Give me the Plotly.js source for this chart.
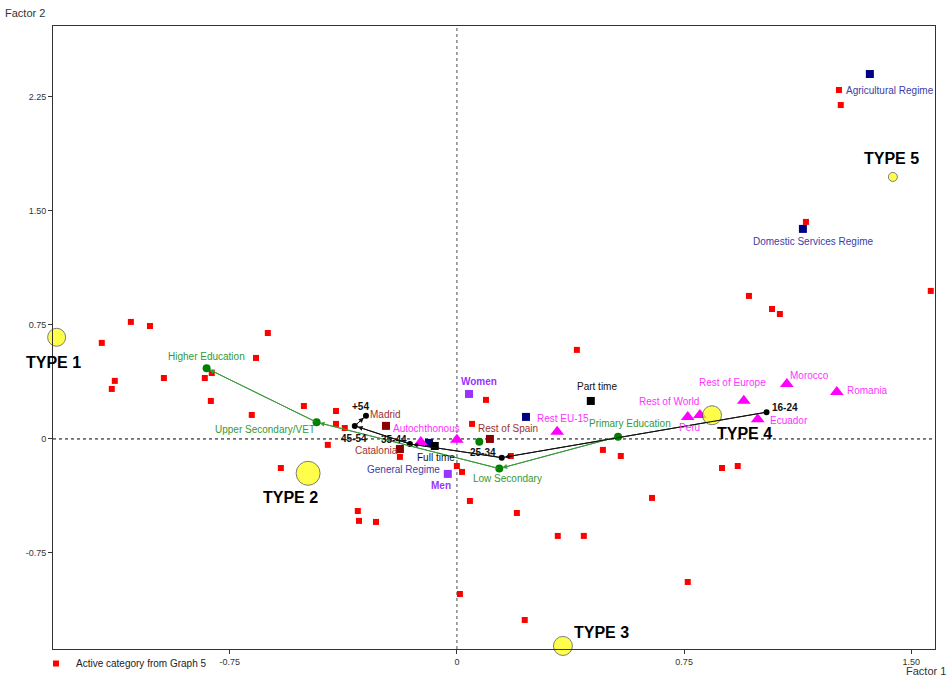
<!DOCTYPE html>
<html>
<head>
<meta charset="utf-8">
<script src="https://cdn.plot.ly/plotly-3.0.1.min.js"></script>
<style>html,body{margin:0;padding:0;background:#fff;}#chart{width:950px;height:677px;}</style>
</head>
<body>
<div id="chart"></div>
<script>
// ---------- DATA ----------
// Active categories from Graph 5 (Factor 1, Factor 2)
const activeX = [1.261,1.267,1.152,1.564,0.964,1.040,1.066,-1.076,-1.013,-1.172,-0.624,-0.663,-1.129,-1.139,-0.967,-0.832,-0.809,-0.812,-0.677,-0.505,-0.399,-0.399,-0.370,-0.426,-0.188,-0.581,-0.327,-0.323,-0.267,0.000,0.017,0.043,0.050,0.096,0.178,0.482,0.541,0.644,0.198,0.333,0.419,0.010,0.224,0.762,0.875,0.927,0.396];
const activeY = [2.296,2.197,1.428,0.974,0.941,0.855,0.822,0.770,0.743,0.632,0.697,0.533,0.382,0.329,0.401,0.401,0.434,0.250,0.158,0.217,0.184,0.099,0.072,-0.039,-0.118,-0.191,-0.474,-0.539,-0.546,-0.178,-0.217,-0.408,0.099,0.257,-0.112,-0.072,-0.112,-0.388,-0.487,-0.638,-0.638,-1.020,-1.191,-0.941,-0.191,-0.178,0.586];

// Social security regime
const regimeNames = ["Agricultural Regime","Domestic Services Regime","General Regime",""];
const regimeX = [1.363,1.142,-0.092,0.228];
const regimeY = [2.401,1.382,-0.026,0.145];

// Working time
const timeNames = ["Part time","Full time"];
const timeX = [0.442,-0.073];
const timeY = [0.250,-0.046];

// Gender
const genderNames = ["Women","Men"];
const genderX = [0.040,-0.030];
const genderY = [0.296,-0.230];

// Region
const regionNames = ["Madrid","Catalonia","Rest of Spain"];
const regionX = [-0.234,-0.188,0.109];
const regionY = [0.086,-0.066,0.000];

// Origin
const originNames = ["Autochthonous","","Rest EU-15","Rest of World","Peru","Rest of Europe","Morocco","Romania","Ecuador"];
const originX = [-0.119,0.000,0.331,0.762,0.802,0.947,1.089,1.254,0.993];
const originY = [-0.020,-0.005,0.048,0.145,0.158,0.252,0.362,0.309,0.130];

// Education (trajectory order)
const eduNames = ["Primary Education","Low Secondary","Upper Secondary/VET","Higher Education"];
const eduX = [0.532,0.140,-0.463,-0.826];
const eduY = [0.015,-0.195,0.110,0.465];
const eduOtherX = [0.074];
const eduOtherY = [-0.018];

// Age (trajectory order)
const ageNames = ["16-24","25-34","35-44","45-54","+54"];
const ageX = [1.022,0.148,-0.155,-0.337,-0.300];
const ageY = [0.176,-0.123,-0.033,0.086,0.153];

// Cluster types
const typeNames = ["TYPE 1","TYPE 2","TYPE 3","TYPE 4","TYPE 5"];
const typeX = [-1.321,-0.491,0.350,0.842,1.439];
const typeY = [0.669,-0.226,-1.362,0.156,1.724];
const typeWeight = [18,24,19,19,9];

// Axis ticks
const xTickVals = [-0.75,0,0.75,1.5];
const xTickText = ["-0.75","0","0.75","1.50"];
const yTickVals = [-0.75,0,0.75,1.5,2.25];
const yTickText = ["-0.75","0","0.75","1.50","2.25"];

// ---------- STYLE (label offsets in px: right, down) ----------
const labelOffset = {
  "Agricultural Regime":[20,16],"Domestic Services Regime":[10,13],"General Regime":[-26,27],
  "Part time":[6,-14],"Full time":[1,12],"Women":[10,-12],"Men":[-7,12],
  "Madrid":[0,-11],"Catalonia":[-23,2],"Rest of Spain":[18,-10],
  "Autochthonous":[6,-13],"Rest EU-15":[6,-13],"Rest of World":[-19,-15],"Peru":[-10,13],
  "Rest of Europe":[-11,-18],"Morocco":[23,-8],"Romania":[30,-1],"Ecuador":[31,1],
  "Higher Education":[0,-12],"Upper Secondary/VET":[-52,7],"Low Secondary":[8,10],"Primary Education":[12,-13],
  "+54":[-5,-9],"45-54":[-1,13],"35-44":[-16,-4],"25-34":[-19,-5],"16-24":[18,-5],
  "TYPE 1":[-3,25],"TYPE 2":[-18,24],"TYPE 3":[39,-13],"TYPE 4":[32,18],"TYPE 5":[-1,-18]
};
const FONT = "Liberation Sans, Arial, sans-serif";

const annotations = [];
function addLabels(names, xs, ys, color, size, bold) {
  names.forEach((n, i) => {
    if (!n) return;
    const off = labelOffset[n] || [0, -10];
    annotations.push({
      x: xs[i], y: ys[i], xref: "x", yref: "y", showarrow: false,
      text: bold ? "<b>" + n + "</b>" : n,
      font: {family: FONT, size: size, color: color},
      xanchor: "center", yanchor: "middle",
      xshift: off[0], yshift: -off[1]
    });
  });
}
function addArrows(xs, ys, color) {
  for (let i = 0; i < xs.length - 1; i++) {
    annotations.push({
      x: xs[i+1], y: ys[i+1], ax: xs[i], ay: ys[i],
      xref: "x", yref: "y", axref: "x", ayref: "y",
      showarrow: true, arrowhead: 2, arrowsize: 1, arrowwidth: 1,
      arrowcolor: color, standoff: 3, text: ""
    });
  }
}

addArrows(eduX, eduY, "#3a9a3a");
addArrows(ageX, ageY, "#111111");

addLabels(regimeNames, regimeX, regimeY, "#3c3caa", 10, false);
addLabels(timeNames, timeX, timeY, "#111111", 10, false);
addLabels(genderNames, genderX, genderY, "#9933ff", 10, true);
addLabels(regionNames, regionX, regionY, "#a03030", 10, false);
addLabels(originNames, originX, originY, "#ff33ff", 10, false);
addLabels(eduNames, eduX, eduY, "#339933", 10, false);
addLabels(ageNames, ageX, ageY, "#111111", 10, true);
addLabels(typeNames, typeX, typeY, "#000000", 16, true);

// axis names (plot area: x 53..935 px, y 26..649 px)
annotations.push({xref:"paper", yref:"paper", x:(25-53)/882, y:(649-13)/623, xanchor:"center", yanchor:"middle",
  showarrow:false, text:"Factor 2", font:{family:FONT, size:11, color:"#333"}});
annotations.push({xref:"paper", yref:"paper", x:(926-53)/882, y:(649-671)/623, xanchor:"center", yanchor:"middle",
  showarrow:false, text:"Factor 1", font:{family:FONT, size:11, color:"#333"}});

const traces = [
  {type:"scatter", mode:"markers", name:"Active category from Graph 5", x:activeX, y:activeY,
   marker:{symbol:"square", size:6, color:"#ff0000"}, showlegend:true, hoverinfo:"x+y"},
  {type:"scatter", mode:"lines", x:eduX, y:eduY, line:{color:"#3a9a3a", width:1}, showlegend:false, hoverinfo:"skip"},
  {type:"scatter", mode:"lines", x:ageX, y:ageY, line:{color:"#111111", width:1}, showlegend:false, hoverinfo:"skip"},
  {type:"scatter", mode:"markers", x:regimeX, y:regimeY, text:regimeNames,
   marker:{symbol:"square", size:8, color:"#000080"}, showlegend:false},
  {type:"scatter", mode:"markers", x:timeX, y:timeY, text:timeNames,
   marker:{symbol:"square", size:8, color:"#000000"}, showlegend:false},
  {type:"scatter", mode:"markers", x:genderX, y:genderY, text:genderNames,
   marker:{symbol:"square", size:8, color:"#9933ff"}, showlegend:false},
  {type:"scatter", mode:"markers", x:regionX, y:regionY, text:regionNames,
   marker:{symbol:"square", size:8, color:"#8b0000"}, showlegend:false},
  {type:"scatter", mode:"markers", x:originX, y:originY, text:originNames,
   marker:{symbol:"triangle-up", size:12, color:"#ff00ff"}, showlegend:false},
  {type:"scatter", mode:"markers", x:eduX.concat(eduOtherX), y:eduY.concat(eduOtherY),
   marker:{symbol:"circle", size:8, color:"#008000"}, showlegend:false},
  {type:"scatter", mode:"markers", x:ageX, y:ageY, text:ageNames,
   marker:{symbol:"circle", size:6, color:"#000000"}, showlegend:false},
  {type:"scatter", mode:"markers", x:typeX, y:typeY, text:typeNames, cliponaxis:false,
   marker:{symbol:"circle", size:typeWeight, color:"#ffff00", line:{color:"#444", width:1}}, showlegend:false}
];

const layout = {
  width:950, height:677,
  margin:{l:53, r:15, t:26, b:28, autoexpand:false},
  paper_bgcolor:"#fff", plot_bgcolor:"#fff",
  font:{family:FONT, size:10, color:"#222"},
  xaxis:{range:[-1.333,1.578], tickvals:xTickVals, ticktext:xTickText, showgrid:false, zeroline:false,
         showline:true, linecolor:"#333", linewidth:1, mirror:true, ticks:"outside", ticklen:4, tickcolor:"#333",
         tickfont:{family:FONT, size:9, color:"#333"}, automargin:false},
  yaxis:{range:[-1.382,2.717], tickvals:yTickVals, ticktext:yTickText, showgrid:false, zeroline:false,
         showline:true, linecolor:"#333", linewidth:1, mirror:true, ticks:"outside", ticklen:4, tickcolor:"#333",
         tickfont:{family:FONT, size:9, color:"#333"}, automargin:false},
  showlegend:true,
  legend:{xref:"container", yref:"container", x:36/950, y:28/677, xanchor:"left", yanchor:"top", orientation:"h",
          font:{family:FONT, size:10, color:"#222"}, bgcolor:"rgba(0,0,0,0)", itemwidth:30},
  shapes:[
    {type:"line", xref:"paper", yref:"y", x0:0, x1:1, y0:0, y1:0, line:{color:"#000", width:1, dash:"3px,3px"}, layer:"below"},
    {type:"line", xref:"x", yref:"paper", x0:0, x1:0, y0:0, y1:1, line:{color:"#888", width:1.5, dash:"dot"}, layer:"below"}
  ],
  annotations: annotations,
  hovermode:"closest"
};

Plotly.newPlot("chart", traces, layout, {displayModeBar:false});
</script>
</body>
</html>
